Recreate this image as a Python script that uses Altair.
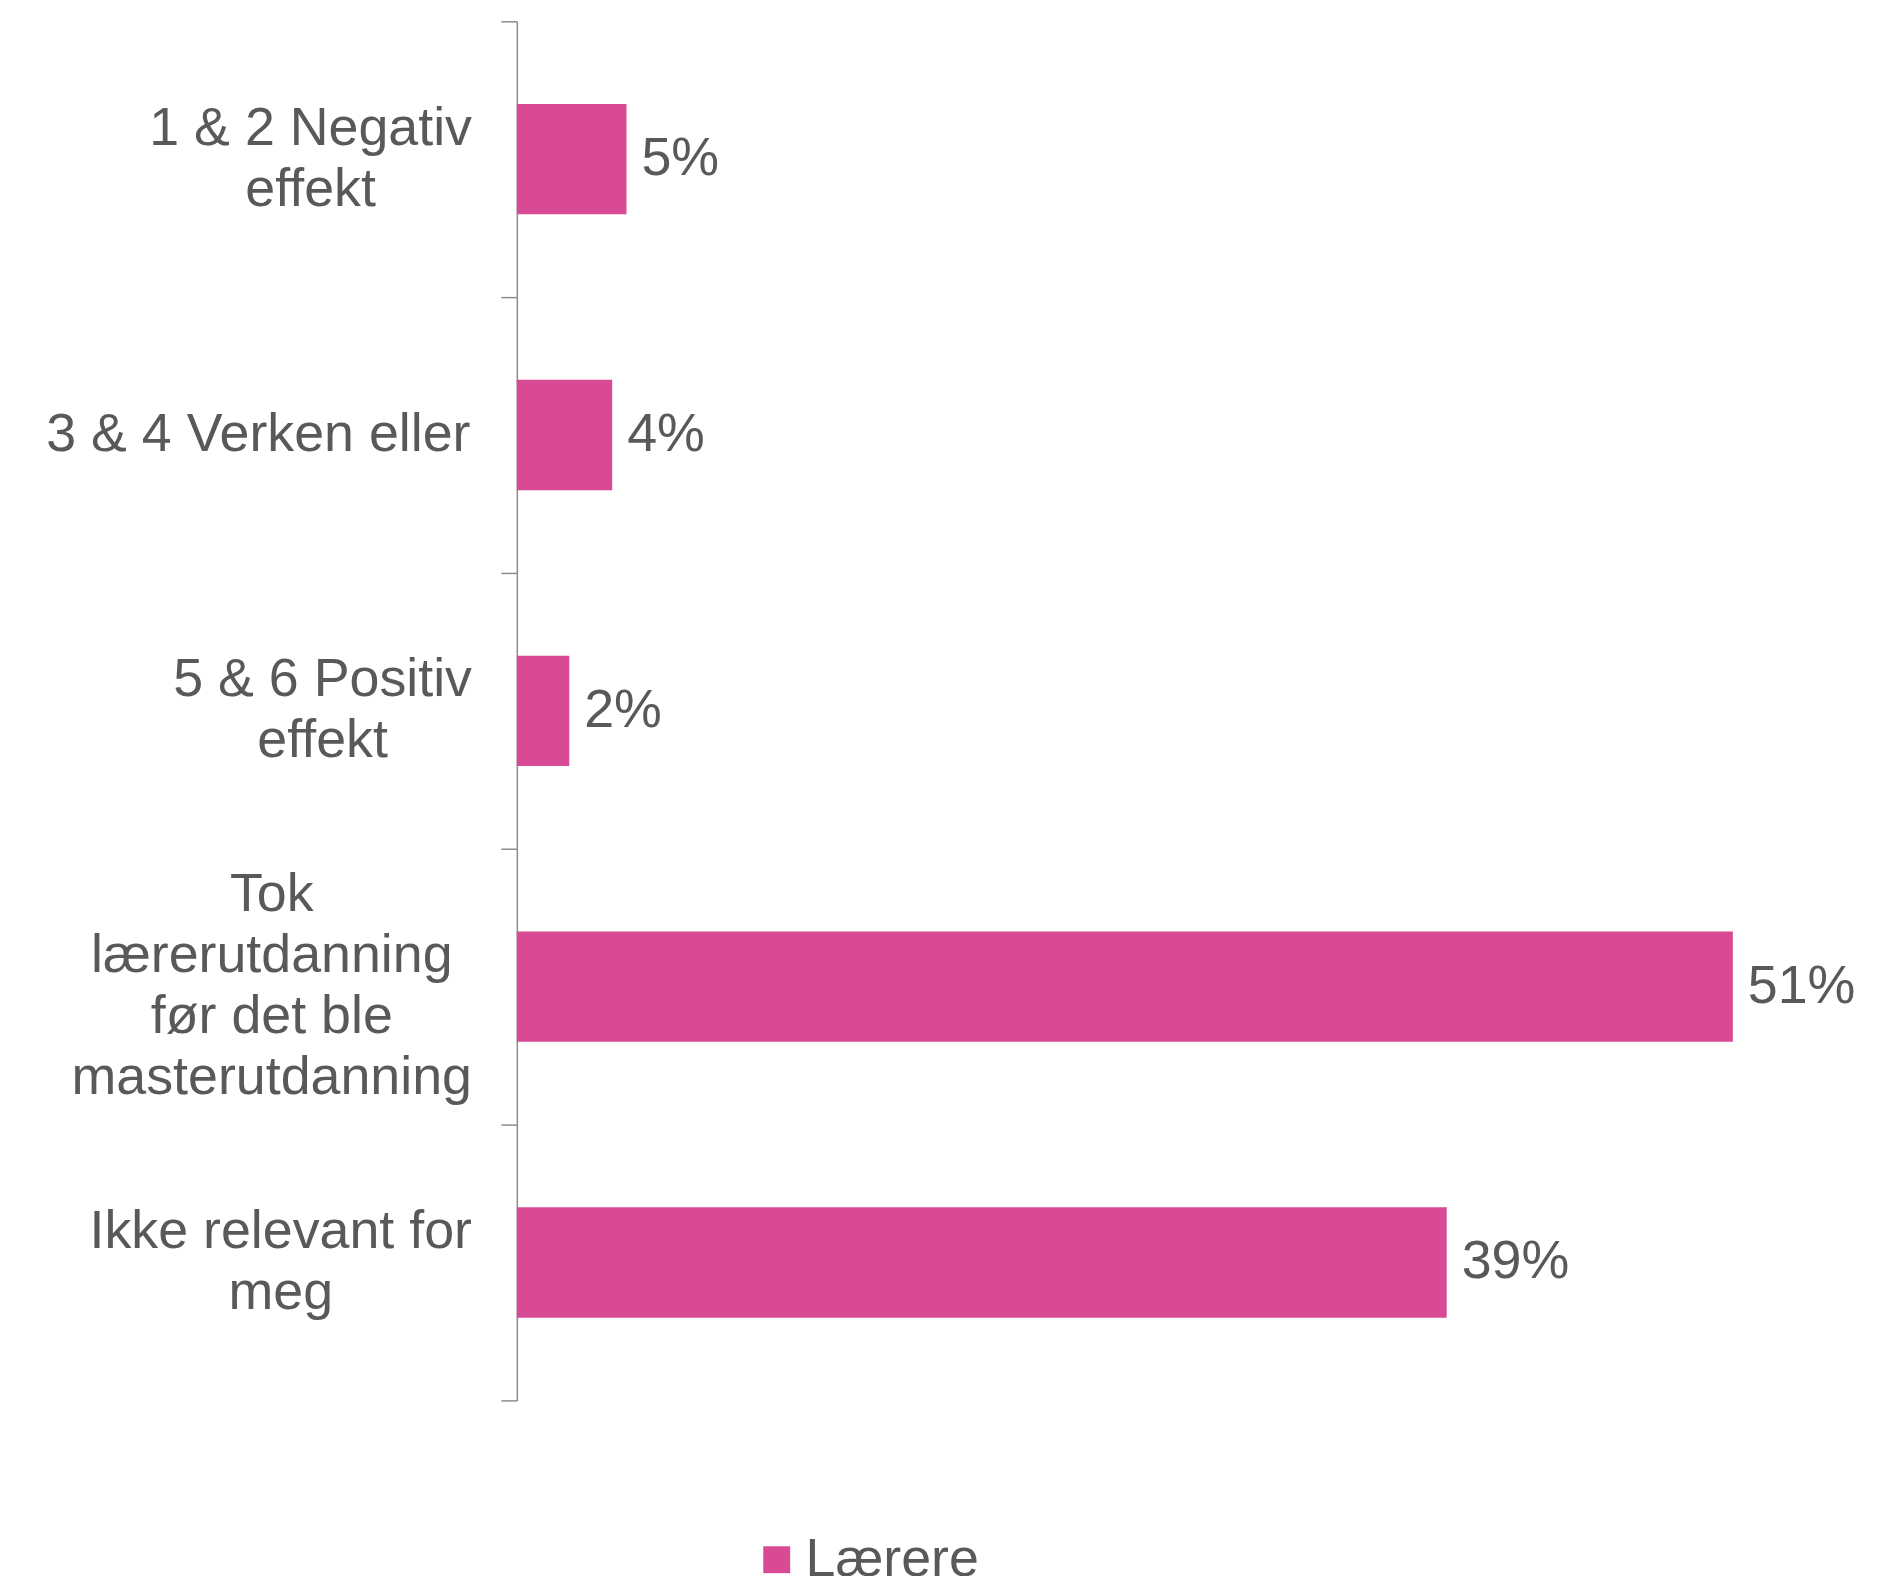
import altair as alt
import pandas as pd

# ---- data ----
categories = [
    "1 & 2 Negativ\neffekt",
    "3 & 4 Verken eller",
    "5 & 6 Positiv\neffekt",
    "Tok\nlærerutdanning\nfør det ble\nmasterutdanning",
    "Ikke relevant for\nmeg",
]
values = [0.046, 0.040, 0.022, 0.510, 0.390]
series_name = "Lærere"

# ---- style ----
FONT = "Liberation Sans"
FS = 54
LH = 61.5
TEXT = "#595959"
PINK = "#D84A94"
AXIS = "#8c8c8c"
W, H = 1317, 1385
GAP = 45  # gap between label block and axis line

# Arial/Liberation Sans advance widths (per 1000 em) to centre the label blocks
ADV = {' ': 278, '&': 667, 'N': 722, 'e': 556, 'g': 556, 'a': 556, 't': 278, 'i': 222,
       'v': 500, 'f': 278, 'k': 500, 'V': 667, 'r': 333, 'n': 556, 'l': 222, 'P': 667,
       'o': 556, 's': 500, 'T': 611, 'æ': 889, 'u': 556, 'd': 556, 'ø': 611, 'b': 556,
       'm': 833, 'I': 278, 'c': 500}


def text_w(s):
    return sum(ADV.get(ch, 556) for ch in s) * FS / 1000.0


df = pd.DataFrame({"cat": categories, "value": values, "series": series_name})
df["label_x"] = [-(GAP + max(text_w(l) for l in c.split("\n")) / 2) for c in categories]
df["nlines"] = [len(c.split("\n")) for c in categories]

y_enc = alt.Y(
    "cat:N",
    sort=categories,
    scale=alt.Scale(paddingInner=0, paddingOuter=0),
    axis=alt.Axis(
        labels=False, title=None, grid=False, tickBand="extent",
        domainColor=AXIS, tickColor=AXIS, domainWidth=1.5, tickWidth=1.5, tickSize=16,
    ),
)
x_scale = alt.Scale(domain=[0, 0.55], nice=False, zero=True)

base = alt.Chart(df)

bars = base.mark_bar(height=alt.RelativeBandSize(0.4)).encode(
    x=alt.X("value:Q", scale=x_scale, axis=None),
    y=y_enc,
    color=alt.Color(
        "series:N",
        scale=alt.Scale(domain=[series_name], range=[PINK]),
        legend=alt.Legend(
            title=None, orient="none", legendX=234, legendY=1518,
            symbolType="square", symbolSize=729, symbolStrokeWidth=0, symbolOpacity=1,
            labelFont=FONT, labelFontSize=FS, labelColor=TEXT, labelOffset=2,
            padding=0, labelLimit=0,
        ),
    ),
)

val_labels = base.mark_text(
    align="left", baseline="middle", dx=15, font=FONT, fontSize=FS, color=TEXT
).encode(
    x=alt.X("value:Q", scale=x_scale, axis=None),
    y=y_enc,
    text=alt.Text("value:Q", format=".0%"),
)

label_layers = []
for k in sorted(set(df["nlines"])):
    label_layers.append(
        base.transform_filter(alt.datum.nlines == k)
        .mark_text(
            align="center", baseline="middle", lineBreak="\n", lineHeight=LH,
            dy=-(k - 1) * LH / 2, font=FONT, fontSize=FS, color=TEXT,
        )
        .encode(
            x=alt.X("label_x:Q", scale=None, axis=None),
            y=y_enc,
            text="cat:N",
        )
    )

chart = (
    alt.layer(bars, val_labels, *label_layers)
    .resolve_scale(x="independent")
    .properties(
        width=W, height=H,
        autosize=alt.AutoSizeParams(type="none"),
        padding={"left": 511, "top": 10, "right": 50, "bottom": 173},
    )
    .configure_view(stroke=None)
)

chart.save("out.html", embed_options={"renderer": "svg", "actions": False})
